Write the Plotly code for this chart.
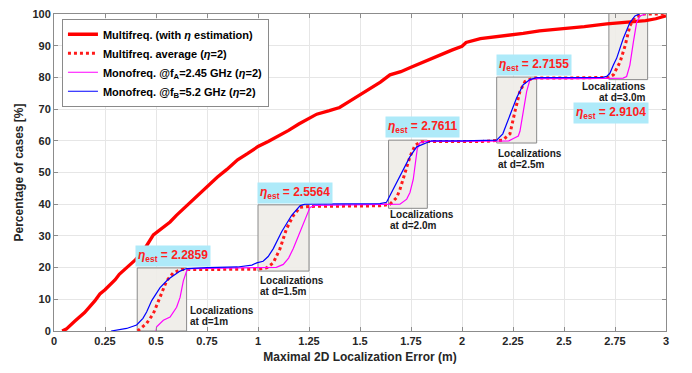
import plotly.graph_objects as go

# ---------------- data ----------------
multi_est_x = [0.04, 0.06, 0.1, 0.15, 0.2, 0.225, 0.25, 0.3, 0.32, 0.35, 0.4, 0.42, 0.45, 0.487, 0.52, 0.569,
               0.6, 0.667, 0.7, 0.75, 0.8, 0.846, 0.9, 0.95, 1.0, 1.05, 1.1, 1.15, 1.2, 1.25, 1.288, 1.35,
               1.4, 1.45, 1.5, 1.55, 1.6, 1.647, 1.7, 1.75, 1.8, 1.85, 1.9, 1.95, 2.0, 2.02, 2.09, 2.2,
               2.3, 2.38, 2.5, 2.6, 2.71, 2.8, 2.9, 2.95, 3.0]
multi_est_y = [0, 0.6, 3.0, 5.8, 9.5, 11.7, 13.0, 16.2, 17.9, 19.5, 22.5, 24.0, 26.5, 30.3, 32.0, 34.4,
               36.5, 40.6, 42.5, 45.5, 48.5, 50.9, 54.0, 56.0, 58.2, 59.8, 61.5, 63.3, 65.3, 67.0, 68.4, 69.5,
               70.5, 72.5, 74.5, 76.5, 78.5, 80.8, 81.8, 83.2, 84.6, 86.0, 87.4, 88.6, 89.8, 91.0, 92.2, 93.0,
               93.9, 94.7, 95.3, 96.0, 96.9, 97.3, 97.9, 98.5, 99.4]

multi_avg_x = [0.41, 0.454, 0.487, 0.52, 0.552, 0.585, 0.626, 0.7, 1.0, 1.042, 1.075, 1.108, 1.14, 1.173,
               1.206, 1.25, 1.5, 1.598, 1.647, 1.68, 1.696, 1.72, 1.745, 1.77, 1.80, 1.85, 2.1, 2.2,
               2.235, 2.26, 2.284, 2.309, 2.35, 2.5, 2.72, 2.742, 2.775, 2.8, 2.823, 2.848, 2.89, 3.0]
multi_avg_y = [0.0, 2.4, 5.5, 10.6, 15.8, 18.4, 19.4, 19.4, 19.5, 19.9, 21.5, 26.0, 32.3, 36.4,
               39.0, 39.3, 39.4, 39.5, 40.0, 42.1, 44.7, 49.8, 55.0, 58.6, 59.7, 59.8, 59.8, 60.2,
               62.2, 69.4, 75.6, 78.7, 79.8, 79.8, 80.0, 80.8, 84.9, 90.1, 96.3, 98.9, 100.0, 100.0]

mono_a_x = [0.5, 0.503, 0.536, 0.569, 0.601, 0.618, 0.634, 0.65, 0.67, 0.8, 1.0, 1.09, 1.124, 1.15, 1.173,
            1.206, 1.239, 1.255, 1.28, 1.5, 1.696, 1.729, 1.745, 1.761, 1.77, 1.781, 1.794, 1.82, 2.0,
            2.23, 2.252, 2.276, 2.284, 2.3, 2.317, 2.333, 2.36, 2.6, 2.79, 2.807, 2.823, 2.84, 2.856,
            2.873, 2.9]
mono_a_y = [0, 1.3, 3.4, 4.4, 7.5, 10.6, 15.8, 18.9, 19.7, 19.8, 19.9, 20.1, 21.0, 23.0, 26.0,
            31.3, 36.4, 39.0, 39.6, 39.7, 40.0, 41.6, 43.7, 47.8, 52.9, 57.6, 59.4, 59.8, 59.8,
            60.0, 60.7, 61.5, 63.0, 69.4, 75.6, 79.3, 79.6, 79.6, 79.8, 80.3, 83.9, 91.1, 97.3,
            99.4, 100.0]

mono_b_x = [0.28, 0.356, 0.405, 0.436, 0.454, 0.479, 0.52, 0.56, 0.618, 0.65, 0.75, 0.9, 0.97, 0.994,
            1.025, 1.05, 1.075, 1.116, 1.165, 1.206, 1.23, 1.4, 1.598, 1.63, 1.663, 1.688, 1.712, 1.745,
            1.778, 1.827, 1.85, 2.0, 2.17, 2.2, 2.235, 2.268, 2.3, 2.333, 2.366, 2.5, 2.69, 2.709,
            2.725, 2.742, 2.758, 2.79, 2.823, 2.848, 2.87]
mono_b_y = [0, 0.8, 1.9, 4.0, 6.0, 9.6, 13.7, 16.3, 18.9, 19.7, 20.0, 20.2, 20.8, 21.5,
            22.0, 23.5, 26.0, 31.3, 36.5, 39.5, 40.0, 40.0, 40.2, 40.6, 44.7, 48.3, 50.9, 55.0,
            58.1, 59.4, 60.0, 60.0, 60.2, 62.2, 68.4, 73.6, 77.7, 79.3, 79.9, 80.0, 80.0, 80.3,
            81.3, 83.9, 86.0, 92.2, 97.3, 99.4, 100.0]

# zoom boxes: x0, x1, y0, y1
box_x0 = [0.408, 1.0, 1.64, 2.17, 2.72]
box_x1 = [0.65, 1.25, 1.83, 2.366, 2.91]
box_y0 = [0.0, 18.9, 38.7, 59.3, 79.3]
box_y1 = [19.9, 39.8, 60.2, 80.1, 100.2]

eta_values = ["2.2859", "2.5564", "2.7611", "2.7155", "2.9104"]
eta_x = [0.581, 1.181, 1.804, 2.355, 2.73]
eta_y = [23.7, 43.5, 64.4, 83.9, 68.7]

loc_line1 = ["Localizations"] * 5
loc_line2 = ["at d=1m", "at d=1.5m", "at d=2.0m", "at d=2.5m", "at d=3.0m"]
loc_x = [0.662, 1.005, 1.642, 2.172, 2.907]
loc_y = [8.6, 17.9, 38.7, 58.2, 79.2]
loc_anchor = ["left", "left", "left", "left", "right"]

x_ticks = [0, 0.25, 0.5, 0.75, 1, 1.25, 1.5, 1.75, 2, 2.25, 2.5, 2.75, 3]
x_tick_text = ["0", "0.25", "0.5", "0.75", "1", "1.25", "1.5", "1.75", "2", "2.25", "2.5", "2.75", "3"]
y_ticks = [0, 10, 20, 30, 40, 50, 60, 70, 80, 90, 100]

# ---------------- figure ----------------
FONT = "Liberation Sans, Arial, Helvetica, sans-serif"
fig = go.Figure()

fig.add_trace(go.Scatter(x=multi_est_x, y=multi_est_y, mode="lines",
                         line=dict(color="#ff0000", width=3.3),
                         name="Multifreq. (with <i>η</i> estimation)"))
fig.add_trace(go.Scatter(x=multi_avg_x, y=multi_avg_y, mode="lines",
                         line=dict(color="#ff1a1a", width=3, dash="dot"),
                         name="Multifreq. average (<i>η</i>=2)"))
fig.add_trace(go.Scatter(x=mono_a_x, y=mono_a_y, mode="lines",
                         line=dict(color="#ff00ff", width=1.2),
                         name="Monofreq. @f<sub>A</sub>=2.45 GHz (<i>η</i>=2)"))
fig.add_trace(go.Scatter(x=mono_b_x, y=mono_b_y, mode="lines",
                         line=dict(color="#0000ff", width=1.2),
                         name="Monofreq. @f<sub>B</sub>=5.2 GHz (<i>η</i>=2)"))

shapes = []
for x0, x1, y0, y1 in zip(box_x0, box_x1, box_y0, box_y1):
    shapes.append(dict(type="rect", xref="x", yref="y", x0=x0, x1=x1, y0=y0, y1=y1,
                       fillcolor="rgba(238,236,232,0.9)", line=dict(color="#8a8a8a", width=1),
                       layer="between"))

annotations = []
for v, x, y in zip(eta_values, eta_x, eta_y):
    annotations.append(dict(x=x, y=y, xref="x", yref="y", showarrow=False,
                            text="<i>η</i><sub>est</sub> = " + v,
                            font=dict(family=FONT, size=12, color="#ff2020", weight="bold"),
                            bgcolor="#aeeaf9", borderpad=2))
# two-line labels drawn as two stacked annotations (tighter line spacing, as in the reference)
for l1, l2, x, y, a in zip(loc_line1, loc_line2, loc_x, loc_y, loc_anchor):
    annotations.append(dict(x=x, y=y, xref="x", yref="y", showarrow=False, text=l1,
                            xanchor=a, yanchor="top", align=a, borderpad=0,
                            font=dict(family=FONT, size=10, color="#1a1a1a", weight="bold")))
    annotations.append(dict(x=x, y=y, xref="x", yref="y", showarrow=False, text=l2,
                            xanchor=a, yanchor="top", align=a, borderpad=0, yshift=-11,
                            font=dict(family=FONT, size=10, color="#1a1a1a", weight="bold")))

fig.update_layout(
    width=692, height=373,
    margin=dict(l=54, r=26, t=8, b=42),
    paper_bgcolor="white", plot_bgcolor="white",
    font=dict(family=FONT, color="#262626"),
    shapes=shapes, annotations=annotations,
    legend=dict(x=0.013, y=0.985, xanchor="left", yanchor="top",
                bgcolor="white", bordercolor="#8a8a8a", borderwidth=1,
                font=dict(family=FONT, size=11, color="#000000", weight="bold"),
                tracegroupgap=0, itemwidth=30),
    xaxis=dict(range=[0, 3], tickvals=x_ticks, ticktext=x_tick_text,
               showgrid=True, gridcolor="#e6e6e6", gridwidth=1, zeroline=False,
               showline=True, linecolor="#8c8c8c", linewidth=1, mirror="ticks",
               ticks="inside", ticklen=4, tickcolor="#8c8c8c",
               tickfont=dict(family=FONT, size=11, color="#262626", weight="bold"),
               title=dict(text="Maximal 2D Localization Error (m)", standoff=6,
                          font=dict(family=FONT, size=12, color="#262626", weight="bold"))),
    yaxis=dict(range=[0, 100], tickvals=y_ticks,
               showgrid=True, gridcolor="#e6e6e6", gridwidth=1, zeroline=False,
               showline=True, linecolor="#8c8c8c", linewidth=1, mirror="ticks",
               ticks="inside", ticklen=4, tickcolor="#8c8c8c",
               tickfont=dict(family=FONT, size=11, color="#262626", weight="bold"),
               title=dict(text="Percentage of cases [%]", standoff=6,
                          font=dict(family=FONT, size=12, color="#262626", weight="bold"))),
)

fig.write_html("out.html")
